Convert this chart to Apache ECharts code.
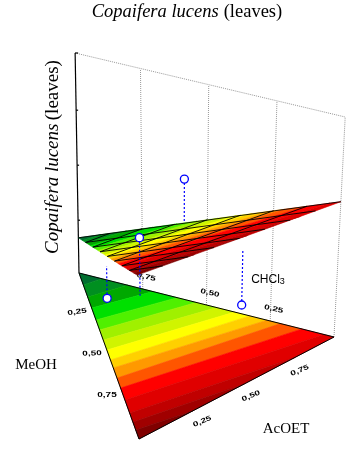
<!DOCTYPE html>
<html>
<head>
<meta charset="utf-8">
<style>
html, body { margin: 0; background: #fff; }
#chart { width: 356px; height: 455px; }
</style>
<script src="https://cdn.jsdelivr.net/npm/echarts@6/dist/echarts.min.js"></script>
</head>
<body>
<div id="chart"></div>
<script>
// contours of the response, read along the triangle edges
const contourStartMeoh = [0.072, 0.145, 0.211, 0.283, 0.343, 0.404, 0.464, 0.524, 0.572, 0.633, 0.693, 0.765, 0.843, 0.898, 0.946];
const contourEndAcoet = [0.09, 0.19, 0.29, 0.385, 0.46, 0.54, 0.61, 0.67, 0.737, 0.79, 0.874, 0.96, 0, 0, 0];
const contourEndMeoh = [0, 0, 0, 0, 0, 0, 0, 0, 0, 0, 0, 0, 0.2, 0.46, 0.72];
const bandColors = ['#006f30', '#008f20', '#00a800', '#00e000', '#50f000', '#a0f000', '#d0f400',
  '#ffff00', '#ffd000', '#ff9900', '#ff5500', '#ff0000', '#e00000', '#c00000', '#a00000', '#800000'];

// response of the fitted surface at the pure solvents
const surfaceMeoh = 0.745;
const surfaceAcoet = 0.615;
const surfaceChcl3 = 0.16;
const meshSteps = [0.125, 0.25, 0.375, 0.5, 0.625, 0.75, 0.875];

// experiments: composition, measured response, fitted response
const pointMeoh = [0.119, 0.11, 0.333, 0.058];
const pointAcoet = [0.082, 0.61, 0.333, 0.226];
const pointChcl3 = [0.80, 0.28, 0.334, 0.716];
const pointResponse = [0, 0.115, 0.775, 0.27];
const pointDropTo = [0.147, 0.367, 0.509, 0];

const tickValues = [0.25, 0.5, 0.75];
const tickLabels = ['0,25', '0,50', '0,75'];
const responseTicks = [0.24, 0.49, 0.74];

// page positions of the floor triangle
const cornerChcl3 = [79, 273];
const cornerAcoet = [334, 337];
const cornerMeoh = [139, 439];
const zScale = 220;

function project(m, a, c, z) {
  const x = m * cornerMeoh[0] + a * cornerAcoet[0] + c * cornerChcl3[0];
  const y = m * cornerMeoh[1] + a * cornerAcoet[1] + c * cornerChcl3[1];
  const lift = z * zScale;
  // walls lean outwards a little
  return [x + Math.max(x - 175, -55) * 0.00032 * lift, y - lift];
}
function surfaceAt(m, a, c) {
  return project(m, a, c, m * surfaceMeoh + a * surfaceAcoet + c * surfaceChcl3);
}

// corners of one band as [meoh, acoet, chcl3]
function bandPolygon(i) {
  const pts = [];
  const n = contourStartMeoh.length;
  const onLower = k => contourEndMeoh[k] > 0;
  if (i === 0) pts.push([0, 0, 1]);
  else {
    const s = contourStartMeoh[i - 1];
    pts.push([s, 0, 1 - s]);
    if (onLower(i - 1)) pts.push([contourEndMeoh[i - 1], 1 - contourEndMeoh[i - 1], 0]);
    else pts.push([0, contourEndAcoet[i - 1], 1 - contourEndAcoet[i - 1]]);
  }
  if (i === n) { pts.push([1, 0, 0]); return pts; }
  if (onLower(i)) {
    if (i > 0 && !onLower(i - 1)) pts.push([0, 1, 0]);
    pts.push([contourEndMeoh[i], 1 - contourEndMeoh[i], 0]);
  } else pts.push([0, contourEndAcoet[i], 1 - contourEndAcoet[i]]);
  pts.push([contourStartMeoh[i], 0, 1 - contourStartMeoh[i]]);
  return pts;
}

function bandSeries(toPage, z) {
  return {
    type: 'custom', z: z, silent: true, clip: false,
    data: bandColors.map((c, i) => [i]),
    renderItem: function (params, api) {
      const i = api.value(0);
      const points = bandPolygon(i).map(p => api.coord(toPage(p)));
      return {
        type: 'polygon', shape: { points: points },
        style: { fill: bandColors[i], stroke: bandColors[i], lineWidth: 0.6 }
      };
    }
  };
}

function segmentSeries(segments, color, width, dash, z) {
  return {
    type: 'custom', z: z, silent: true, clip: false,
    data: segments,
    renderItem: function (params, api) {
      const p1 = api.coord([api.value(0), api.value(1)]);
      const p2 = api.coord([api.value(2), api.value(3)]);
      return {
        type: 'line',
        shape: { x1: p1[0], y1: p1[1], x2: p2[0], y2: p2[1] },
        style: { stroke: color, lineWidth: width, lineDash: dash, fill: null }
      };
    }
  };
}
const seg = (a, b) => [a[0], a[1], b[0], b[1]];

// walls
const wallEdge = [0.75, 0.5, 0.25, 0];
const wallSegs = wallEdge.map(c => seg(project(0, 1 - c, c, 0), project(0, 1 - c, c, 1)));
wallSegs.push(seg(project(0, 0, 1, 1), project(0, 1, 0, 1)));

const axisSegs = [seg(project(0, 0, 1, 0), project(0, 0, 1, 1))];
responseTicks.forEach(t => {
  const p = project(0, 0, 1, t);
  axisSegs.push([p[0], p[1], p[0] + 2, p[1]]);
});
const top0 = project(0, 0, 1, 1);
axisSegs.push([top0[0], top0[1], top0[0] + 3, top0[1]]);

const floorEdges = [
  seg(project(0, 0, 1, 0), project(0, 1, 0, 0)),
  seg(project(0, 1, 0, 0), project(1, 0, 0, 0)),
  seg(project(1, 0, 0, 0), project(0, 0, 1, 0))
];

// mesh on the surface: constant MeOH and constant CHCl3 lines
const meshSegs = [];
meshSteps.forEach(s => {
  meshSegs.push(seg(surfaceAt(s, 0, 1 - s), surfaceAt(s, 1 - s, 0)));
  meshSegs.push(seg(surfaceAt(1 - s, 0, s), surfaceAt(0, 1 - s, s)));
});
meshSegs.push(seg(surfaceAt(0, 0, 1), surfaceAt(0, 1, 0)));

const dropPage = i => seg(
  project(pointMeoh[i], pointAcoet[i], pointChcl3[i], pointResponse[i]),
  project(pointMeoh[i], pointAcoet[i], pointChcl3[i], pointDropTo[i])
);

// tick labels next to the edges: value, page position, tilt
const tickItems = [];
tickValues.forEach((v, i) => {
  let p = project(v, 0, 1 - v, 0);
  tickItems.push([p[0] - 17, p[1] - 2.5, i, [0.15, 0.03, 0][i]]);
  p = project(1 - v, v, 0, 0);
  tickItems.push([p[0] + 14.5, p[1] + 8, i, 0.4]);
  p = project(0, 1 - v, v, 0);
  tickItems.push([p[0] + 3.5, p[1] - 12, i, -0.23]);
});

const chart = echarts.init(document.getElementById('chart'));
chart.setOption({
  animation: false,
  backgroundColor: '#fff',
  title: {
    left: 182, top: -2, textAlign: 'center',
    text: '{i|Copaifera lucens} {n|(leaves)}',
    textStyle: {
      rich: {
        i: { fontFamily: 'Liberation Serif', fontStyle: 'italic', fontWeight: 'normal', fontSize: 18.5, color: '#000' },
        n: { fontFamily: 'Liberation Serif', fontWeight: 'normal', fontSize: 18.5, color: '#000' }
      }
    }
  },
  grid: { left: 0, right: 0, top: 0, bottom: 0 },
  xAxis: { type: 'value', min: 0, max: 356, show: false },
  yAxis: { type: 'value', min: 0, max: 455, inverse: true, show: false },
  graphic: [
    {
      type: 'text', x: 53, y: 157, rotation: Math.PI / 2, z: 10,
      style: {
        text: '{i|Copaifera lucens} {n|(leaves)}', align: 'center', verticalAlign: 'middle',
        rich: {
          i: { fontFamily: 'Liberation Serif', fontStyle: 'italic', fontSize: 19, fill: '#000' },
          n: { fontFamily: 'Liberation Serif', fontSize: 19, fill: '#000' }
        }
      }
    },
    { type: 'text', x: 36, y: 365, z: 10, style: { text: 'MeOH', align: 'center', verticalAlign: 'middle', font: '15px "Liberation Serif"', fill: '#000' } },
    { type: 'text', x: 286, y: 429, z: 10, style: { text: 'AcOET', align: 'center', verticalAlign: 'middle', font: '15px "Liberation Serif"', fill: '#000' } },
    {
      type: 'text', x: 268, y: 280, z: 10,
      style: {
        text: '{a|CHCl}{b|3}', align: 'center', verticalAlign: 'middle',
        rich: {
          a: { fontFamily: 'Liberation Sans', fontSize: 12, fill: '#000' },
          b: { fontFamily: 'Liberation Sans', fontSize: 9, fill: '#000', verticalAlign: 'bottom', padding: [4, 0, 0, 0] }
        }
      }
    }
  ],
  series: [
    segmentSeries(wallSegs, '#999', 1, [1, 1], 1),
    segmentSeries(axisSegs, '#000', 1.2, null, 2),
    bandSeries(p => project(p[0], p[1], p[2], 0), 2),
    segmentSeries(floorEdges, '#000', 1, null, 3),
    {
      type: 'custom', z: 3, silent: true, clip: false,
      data: tickItems,
      renderItem: function (params, api) {
        const p = api.coord([api.value(0), api.value(1)]);
        return {
          type: 'text', x: p[0], y: p[1], rotation: api.value(3), scaleY: 0.7,
          style: {
            text: tickLabels[api.value(2)], align: 'center', verticalAlign: 'middle',
            font: 'bold 10px "Liberation Sans"', fill: '#000'
          }
        };
      }
    },
    segmentSeries([dropPage(2)], '#0000ff', 1.2, [2, 2], 3),
    bandSeries(p => surfaceAt(p[0], p[1], p[2]), 5),
    segmentSeries(meshSegs, '#000', 0.9, null, 6),
    segmentSeries([dropPage(0), dropPage(1), dropPage(3)], '#0000ff', 1.2, [2, 2], 7),
    {
      type: 'scatter', z: 8, silent: true, clip: false,
      symbol: 'circle', symbolSize: 8,
      itemStyle: { color: '#fff', borderColor: '#0000ff', borderWidth: 1.3, opacity: 1 },
      data: pointMeoh.map((m, i) => project(m, pointAcoet[i], pointChcl3[i], pointResponse[i]))
    }
  ]
});
</script>
</body>
</html>
